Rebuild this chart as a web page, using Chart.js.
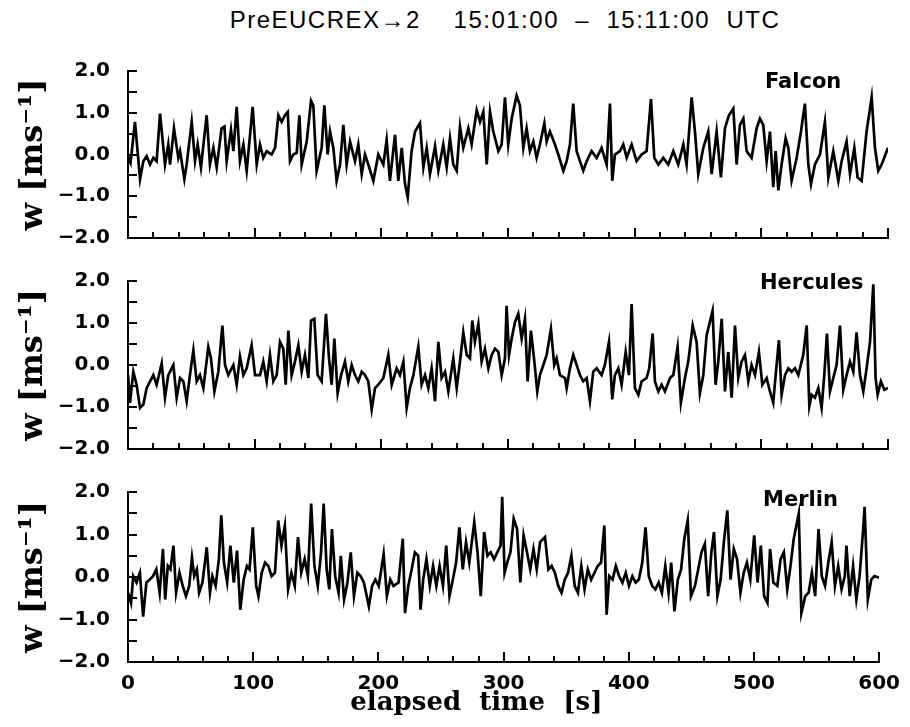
<!DOCTYPE html>
<html>
<head>
<meta charset="utf-8">
<title>PreEUCREX-2 vertical wind</title>
<script src="https://cdn.jsdelivr.net/npm/chart.js"></script>
<style>
  body { margin: 0; background: #fff; overflow: hidden; }
  #wrap { position: relative; width: 910px; height: 727px; }
  #title {
    position: absolute; top: 6px; left: 155px; width: 700px;
    text-align: center; white-space: pre;
    font: 24px "Liberation Sans", Arial, sans-serif; letter-spacing: 1.5px;
    line-height: 28px; color: #000;
  }
  canvas { position: absolute; left: 0; }
</style>
</head>
<body>
<div id="wrap">
  <div id="title">PreEUCREX→2    15:01:00  –  15:11:00  UTC</div>
  <canvas id="c1" width="910" height="247" style="top:31px"></canvas>
  <canvas id="c2" width="910" height="248" style="top:241px"></canvas>
  <canvas id="c3" width="910" height="275" style="top:452px"></canvas>
</div>

<script>
// aircraft names, one per panel
const aircraft = ['Falcon', 'Hercules', 'Merlin'];

// elapsed time [s] and vertical wind w [m/s]
const falconT = [0,2,5.5,9.5,12.1,14.7,17.4,20,22.6,25.3,
  29.2,31.8,33.2,36.3,39.7,41.1,44.5,46.3,50.3,52.9,
  55,57.6,62.1,64.7,67.4,70,73.9,76.1,77.9,81.3,
  83.2,85.8,88.4,91.1,93.7,98.4,101.6,104.2,106.8,109.5,
  113.4,116.1,118.7,121.3,123.9,126.1,127.9,130.5,133.2,135.3,
  137.1,141.1,144.5,146.3,148.9,152.9,155,157.6,159.5,162.1,
  164.7,167.4,170,172.6,175.3,179.2,181.8,184.5,187.1,189.7,
  193.7,197.6,201.6,204.2,206.8,210.8,213.4,216.1,218.7,220.8,
  223.9,226.6,230.5,233.2,235.8,238.4,242.4,245,248.9,251.6,
  254.2,256.8,259.5,262.1,264.7,268.7,271.3,275.3,277.9,280.5,
  283.2,285.8,288.4,292.4,295,297.6,300.2,302.9,306.8,309.4,
  312.1,314.7,317.3,320,322.6,325.2,328.7,330.5,333.1,337.1,
  339.7,343.7,346.3,348.9,351.5,354.2,356.8,359.4,362.1,366,
  370,373.9,377.9,380.5,382.3,384.4,388.4,391,393.7,397.6,
  401.5,405.5,409.4,412.9,415.5,418.7,422.6,426.5,430.5,434.4,
  438.4,441,445,447.6,450.2,454.2,458.1,460.8,464.7,468.1,
  471.3,474.4,477.9,480.5,483.1,485.8,488.4,492.3,496.3,498.9,
  501.5,504.2,506.8,509.4,511.3,513.4,516,519.2,521.3,523.9,
  527.9,531.3,534.4,537.1,539.2,542.3,546.3,550.2,552.9,556.8,
  560.8,563.4,567.3,570,573.4,576,579.2,583.1,587.1,589.7,
  592.3,595,600];
const falconW = [-0.05,-0.2,0.78,-0.59,-0.16,-0.04,-0.24,-0.08,-0.16,0.98,
  -0.24,0.24,-0.24,0.63,-0.08,0.08,-0.59,-0.24,0.78,-0.16,
  0.24,-0.31,0.94,-0.24,0.16,-0.31,0.63,0.67,-0.16,0.59,
  0.08,1.14,-0.16,0.24,-0.39,1.14,-0.24,0.24,-0.08,0.08,
  0,0.16,0.94,0.78,0.94,1.02,-0.16,0,0.04,0.94,
  -0.24,0.31,1.29,1.18,-0.39,0.16,1.18,0,0.55,0.16,
  -0.63,-0.24,0.71,-0.24,0.31,-0.16,0.24,-0.47,0,-0.24,
  -0.63,0,-0.24,0.35,-0.63,0.47,-0.63,0.16,-0.71,-1.02,
  0.08,0.55,0.75,-0.31,0.16,-0.47,0.2,-0.39,0.24,-0.31,
  0.39,-0.24,-0.39,0.67,0.16,0.63,0.24,1.06,0.78,1.02,
  -0.24,1.02,0.55,0.08,0.24,1.37,0.24,0.86,1.41,1.18,
  0.16,0.63,0.08,0.31,-0.08,0.24,0.75,0.31,0.55,0.24,
  0,-0.39,-0.16,0.24,1.22,0.08,-0.16,-0.39,-0.16,0.08,
  -0.08,0.16,-0.24,1.22,-0.63,0,0.08,0.24,-0.08,0.24,
  -0.16,0,0.08,1.33,-0.08,-0.24,-0.08,-0.24,0.08,-0.24,
  0.24,-0.24,1.37,0.55,-0.47,0.16,0.55,-0.47,0.55,-0.55,
  0.63,0.94,1.1,-0.24,0.71,0.86,0.08,-0.08,0.63,0.86,
  0.71,-0.16,0.55,-0.78,0.08,-0.86,-0.24,0.39,0.16,-0.63,
  -0.08,0.55,1.22,-0.24,-0.71,-0.24,0,0.78,-0.55,0.08,
  -0.63,-0.16,0.31,-0.47,0.16,-0.55,-0.63,0.55,1.37,0.16,
  -0.39,-0.24,0.16];

const herculesT = [0,1.6,4.2,6.8,9.5,12.1,14.7,17.4,20,22.6,
  26.6,29.2,31.8,35.8,38.4,41.1,43.7,46.3,48.9,51.6,
  54.2,56.8,59.5,63.4,65.5,68.2,71.3,74.5,76.6,79.2,
  83.2,85.8,88.4,91.1,93.7,97.6,100.3,104.2,106.8,109.5,
  112.1,114.7,117.4,120,122.6,124.5,126.6,129.2,131.8,134.5,
  137.1,139.7,142.4,144.5,147.1,149.7,152.9,156.3,158.7,160.8,
  162.9,165.5,168.2,171.3,173.9,176.6,179.2,181.8,184.5,187.1,
  189.7,192.4,195,197.6,201.6,205.5,208.2,212.1,214.7,217.4,
  220,222.6,225.3,229.2,231.8,234.5,237.1,239.7,242.4,245,
  247.6,250.3,252.9,256.8,259.5,262.1,264.7,267.4,270,271.8,
  273.9,276.6,279.2,281.8,284.5,287.1,289.7,292.4,295,297.6,
  298.9,300.8,302.9,305.5,308.1,310.8,313.4,315.5,318.1,320.8,
  323.1,325.2,327.9,330.5,333.9,336.5,338.4,341,345,346.3,
  348.9,351.5,354.2,356.8,359.4,362.1,364.7,367.3,370,373.9,
  376.5,379.7,382.3,384.4,387.1,389.7,392.9,395.5,397.6,400.2,
  402.9,405.5,409.4,411.5,414.2,416,418.7,421.3,423.9,427.9,
  430.5,433.9,436.5,439.7,442.3,445.8,448.9,451.5,454.2,456.8,
  461.5,463.9,466,468.7,471.3,473.9,476.6,479.2,481.8,484.4,
  487.1,489.7,492.3,495,498.1,500.8,504.2,506.8,509.4,511.3,
  513.9,516,518.7,521.3,523.9,526.6,529.2,533.1,535.8,537.9,
  539.7,542.3,545,547.6,549.7,551.8,554.2,556.8,559.4,562.1,
  564.7,567.3,570,572.6,575.2,577.9,580.5,583.1,585.8,588.4,
  590.2,591.8,594.4,597.1,600];
const herculesW = [-0.24,-0.9,-0.16,-0.47,-1.02,-0.94,-0.55,-0.39,-0.24,-0.47,
  0.04,-0.78,-0.24,0,-0.78,-0.31,-0.39,-0.86,-0.24,0.35,
  -0.39,-0.24,-0.55,0.43,0.16,-0.63,-0.16,0.94,0,-0.24,
  0,-0.47,0.2,-0.24,-0.08,0.47,-0.24,-0.24,0.08,-0.39,
  0.24,-0.39,-0.24,0.55,0.39,-0.47,0.82,-0.24,0.08,0.47,
  -0.16,0.24,-0.31,1.06,1.1,-0.24,-0.39,1.22,0.16,-0.47,
  0.63,-0.67,-0.24,0.08,-0.39,0,-0.24,-0.39,-0.16,-0.24,
  -0.39,-1.06,-0.55,-0.47,-0.31,0.24,-0.47,-0.08,-0.24,0.08,
  -1.02,-0.55,-0.24,0.43,-0.47,-0.24,-0.55,-0.08,-0.86,0.55,
  -0.31,-0.16,-0.63,0.16,-0.55,0.08,0.78,0.24,0.16,1.06,
  0.55,0.98,0.08,0.39,-0.08,0.24,0.39,0.31,-0.24,0.16,
  1.41,0.24,0.63,1.02,1.22,0.63,1.1,-0.39,0.82,0.08,
  -0.63,-0.24,0,0.24,0.86,0,0.16,-0.24,-0.31,-0.55,
  -0.08,0.24,0,-0.24,-0.39,-0.31,-0.86,-0.16,-0.08,-0.24,
  0,0.55,-0.82,-0.24,-0.08,-0.47,0.31,-0.24,1.45,-0.55,
  -0.71,-0.39,-0.31,-0.08,0.75,-0.39,-0.63,-0.47,-0.63,-0.31,
  -0.24,0.43,-0.9,-0.31,0.08,0.94,0.55,-0.67,-0.24,0.71,
  1.29,-0.47,0.08,1.1,-0.63,0.31,-0.78,0.94,-0.31,0.08,
  0.24,-0.39,0,-0.24,0.31,-0.47,-0.31,-0.63,-0.9,-0.24,
  0.59,-0.71,-0.24,-0.08,-0.16,-0.08,-0.24,0.24,0.94,-0.98,
  -0.71,-0.78,-0.55,-1.02,-0.24,0.75,-0.63,-0.31,0,0.94,
  -0.59,-0.24,0.08,-0.16,0.78,-0.24,-0.63,-0.08,0.55,1.92,
  -0.31,-0.71,-0.39,-0.59,-0.55];

const merlinT = [0,2.4,4.2,6.8,9.5,12.1,14.7,17.4,20,22.6,
  25.3,27.9,29.7,31.8,33.9,36.3,38.4,41.1,43.7,46.3,
  48.9,51.1,52.9,55,56.8,59.5,62.9,65.5,67.4,70,
  72.6,74.5,76.6,79.2,81.8,84.5,87.1,89.7,92.4,95,
  97.1,99.7,102.4,104.2,106.8,109.5,112.1,114.7,117.4,120,
  122.6,125.3,127.9,130.5,133.2,135.8,138.4,141.1,143.7,146.3,
  148.9,151.6,154.2,156.3,158.7,160.8,162.9,165.5,168.2,170,
  172.6,175.3,177.9,180.5,183.2,185.8,188.4,192.4,195,197.6,
  200.3,204.2,206.8,209.5,212.1,216.1,219.5,221.3,223.9,226.6,
  229.2,231.8,233.7,235.8,238.4,241.1,243.7,246.3,248.9,251.6,
  254.2,256.8,259.5,262.1,264.7,267.4,270,272.6,276.6,279.2,
  281.8,284.5,287.1,289.7,292.4,295,297.6,298.9,300.8,302.9,
  305.5,308.1,310.8,313.4,316,318.7,321.3,323.9,326.5,329.2,
  333.1,335.8,338.4,341,343.7,346.3,348.9,351.5,354.2,356.8,
  359.4,362.1,364.7,367.3,370,372.6,375.2,377.9,380.5,382.3,
  384.4,387.1,389.7,392.3,395,397.6,400.2,402.9,405.5,408.1,
  410.8,413.4,416,418.7,421.3,423.9,426.5,429.2,431.8,433.9,
  436.5,439.2,441.8,444.4,447.1,449.7,452.9,455.5,458.1,460.8,
  463.4,466,468.1,470.8,473.4,476,478.7,481.3,483.9,486.5,
  489.2,491.8,494.4,497.1,500.2,502.9,505.5,508.1,510.8,512.9,
  515.5,518.7,521.3,523.9,526.6,529.2,531.8,535.8,537.9,541,
  543.7,546.3,548.9,551.6,554.2,556.8,559.4,562.1,564.7,567.3,
  570,572.6,573.9,576.5,579.2,581.8,584.4,587.1,588.4,591,
  593.7,596.3,600];
const merlinW = [-0.37,-0.61,0.02,-0.13,0.1,-0.93,-0.13,-0.06,0.02,0.18,
  -0.37,0.66,-0.53,0.26,0.18,0.74,-0.37,0.1,-0.21,-0.45,
  -0.21,0.46,0.02,0.18,-0.37,-0.13,0.7,-0.37,0.02,-0.21,
  0.42,1.45,0.34,-0.13,0.74,-0.13,0.62,-0.77,-0.06,0.26,
  0.18,1.17,-0.21,-0.45,0.1,0.34,0.26,0.02,0.1,1.33,
  0.74,1.21,-0.29,0.1,-0.21,0.94,0.1,0.42,0.02,1.73,
  0.26,-0.21,0.58,1.73,0.18,-0.29,1.13,0.02,-0.37,0.5,
  -0.53,-0.13,0.58,-0.45,0.1,0.02,-0.13,-0.69,-0.21,-0.06,
  -0.21,0.54,-0.45,-0.06,-0.21,-0.13,0.9,-0.85,-0.21,0.18,
  0.58,0.5,-0.77,-0.06,0.42,-0.21,0.26,-0.21,0.26,-0.21,
  0.74,-0.45,-0.06,0.34,1.17,0.18,0.82,0.34,1.29,0.58,
  -0.45,1.06,0.5,0.58,0.42,0.58,0.74,1.89,0.1,0.34,
  0.58,1.37,1.13,-0.13,0.98,0.58,0.18,0.66,0.18,0.82,
  0.94,0.18,0.26,0.1,-0.21,-0.37,-0.06,0.1,0.5,-0.21,
  -0.37,0.26,-0.29,0.18,-0.06,0.1,0.26,0.34,1.21,-0.89,
  0.02,-0.06,0.26,0.02,-0.13,0.1,-0.21,0.02,-0.13,-0.06,
  0.34,1.17,0.02,-0.21,-0.29,-0.13,-0.37,0.26,-0.37,0.34,
  -0.81,-0.06,0.18,0.9,1.33,-0.45,-0.21,0.18,0.58,0.78,
  -0.45,0.58,1.06,-0.45,-0.06,0.82,1.57,-0.06,0.66,0.42,
  -0.37,0.1,0.34,-0.06,0.98,-0.13,0.74,-0.45,-0.61,0.66,
  -0.13,-0.21,0.42,0.58,-0.29,0.26,0.9,1.49,-0.85,-0.45,
  -0.37,0.1,-0.45,1.13,0.02,-0.21,0.34,0.82,-0.21,0.26,
  -0.29,0.02,0.74,-0.45,0.26,-0.53,0.02,1.06,1.65,-0.53,
  -0.06,0.02,-0.02];

// inward tick marks on the left and bottom axes, plus the aircraft name
const panelDeco = {
  id: 'panelDeco',
  afterDraw(chart, args, opts) {
    const { ctx, chartArea: a, scales: { x, y } } = chart;
    ctx.save();
    ctx.strokeStyle = '#000';
    ctx.lineWidth = 2;
    ctx.beginPath();
    y.ticks.forEach(t => {
      const py = Math.round(y.getPixelForValue(t.value));
      ctx.moveTo(a.left, py);
      ctx.lineTo(a.left + 9, py);
    });
    x.ticks.forEach(t => {
      const px = Math.round(x.getPixelForValue(t.value));
      const len = t.value % 100 === 0 ? 10 : 6;
      ctx.moveTo(px, a.bottom);
      ctx.lineTo(px, a.bottom - len);
    });
    ctx.stroke();
    ctx.fillStyle = '#000';
    ctx.font = 'bold 21px "DejaVu Sans"';
    ctx.textBaseline = 'alphabetic';
    ctx.fillText(opts.text, a.left + opts.dx, a.top + opts.dy);
    ctx.restore();
  }
};

function fmtW(v) {
  if (!Number.isInteger(v)) return '';
  return v.toFixed(1).replace('-', '\u2212');
}

// every canvas keeps 40px above and (at least) 40px below its plot area
function makePanel(id, times, values, name, cfg) {
  const pts = times.map((t, i) => ({ x: t, y: values[i] }));
  new Chart(document.getElementById(id), {
    type: 'line',
    data: {
      datasets: [{
        label: name,
        data: pts,
        borderColor: '#000',
        borderWidth: 2.7,
        pointRadius: 0,
        tension: 0,
        fill: false
      }]
    },
    plugins: [panelDeco],
    options: {
      responsive: false,
      animation: false,
      layout: { padding: { top: 40, right: 22, left: 0, bottom: 0 } },
      plugins: {
        legend: { display: false },
        tooltip: { enabled: false },
        panelDeco: { text: name, dx: cfg.labelDx, dy: cfg.labelDy }
      },
      scales: {
        x: {
          type: 'linear',
          min: 0,
          max: 600,
          grid: { display: false, drawTicks: false },
          border: { display: true, color: '#000', width: 2 },
          ticks: {
            display: cfg.showX,
            stepSize: 20,
            autoSkip: false,
            maxRotation: 0,
            padding: 10,
            color: '#000',
            font: { family: 'DejaVu Sans', size: 20, weight: 'bold' },
            callback: v => (v % 100 === 0 ? String(v) : '')
          },
          title: {
            display: cfg.showX,
            text: 'elapsed  time  [s]      ',
            color: '#000',
            font: { family: 'DejaVu Serif', size: 26, weight: 'bold' },
            padding: { top: 0, bottom: 8 }
          },
          afterFit: s => { s.height = cfg.xHeight; }
        },
        y: {
          min: -2,
          max: 2,
          grid: { display: false, drawTicks: false },
          border: { display: true, color: '#000', width: 2 },
          ticks: {
            stepSize: 0.5,
            autoSkip: false,
            padding: 18,
            color: '#000',
            font: { family: 'DejaVu Sans', size: 20, weight: 'bold' },
            callback: fmtW
          },
          title: {
            display: true,
            text: 'w [ms\u207B\u00B9]',
            color: '#000',
            font: { family: 'DejaVu Serif', size: 32, weight: 'bold' },
            padding: { top: 14, bottom: 0 }
          },
          afterFit: s => { s.width = 128; }
        }
      }
    }
  });
}

makePanel('c1', falconT, falconW, aircraft[0],
  { xHeight: 40, showX: false, labelDx: 637, labelDy: 17 });
makePanel('c2', herculesT, herculesW, aircraft[1],
  { xHeight: 40, showX: false, labelDx: 632, labelDy: 8 });
makePanel('c3', merlinT, merlinW, aircraft[2],
  { xHeight: 65, showX: true, labelDx: 635, labelDy: 14 });
</script>
</body>
</html>
